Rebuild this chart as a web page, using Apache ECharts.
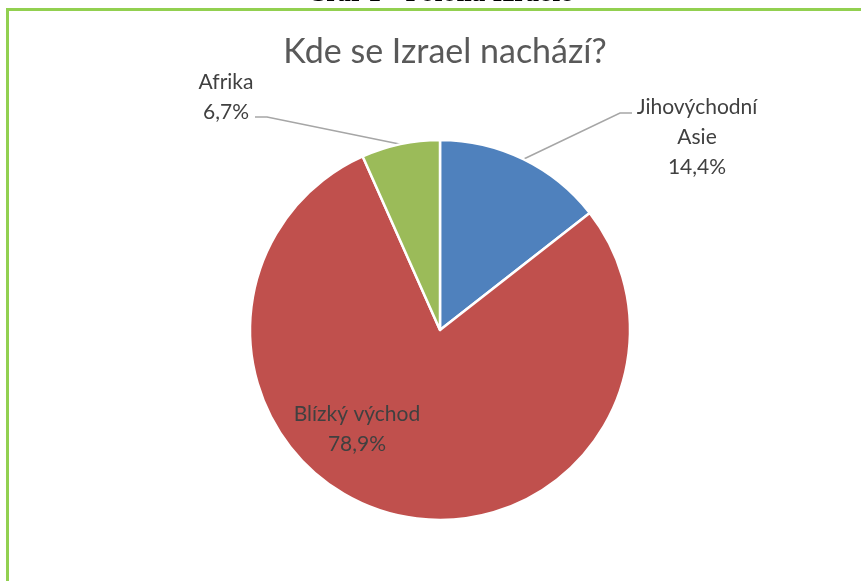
<!DOCTYPE html>
<html>
<head>
<meta charset="utf-8">
<script src="https://cdn.jsdelivr.net/npm/echarts@6/dist/echarts.min.js"></script>
<style>
  html, body { margin: 0; padding: 0; background: #fff; }
  #chart { width: 861px; height: 581px; }
</style>
</head>
<body>
<div id="chart"></div>
<script>
// data (counts of answers, shown as percent)
var categories = ['Jihovýchodní Asie', 'Blízký východ', 'Afrika'];
var counts = [13, 71, 6];
var colors = ['#4f81bd', '#c0504d', '#9bbb59'];

// where Excel put the labels (top-centre of the label block) and the bend of each leader
var labelSpots = [
    { x: 697, y: 92, bend: [[620, 113], [632, 113]] },
    { x: 357, y: 399, bend: null },
    { x: 226, y: 67, bend: [[267, 117], [255, 117]] }
];

var pieData = [];
for (var i = 0; i < categories.length; i++) {
    pieData.push({
        name: categories[i],
        value: counts[i],
        itemStyle: { color: colors[i] },
        label: { position: i == 1 ? 'inside' : 'outside' },
        labelLine: { show: i != 1 }
    });
}

var myChart = echarts.init(document.getElementById('chart'));
var option = {
    animation: false,
    backgroundColor: '#fff',
    title: {
        text: 'Kde se Izrael nachází?',
        left: 440,
        textAlign: 'center',
        top: 30,
        textStyle: { fontFamily: 'Lato', fontWeight: 'normal', fontSize: 34, color: '#595959' }
    },
    graphic: [
        {
            type: 'rect',
            shape: { x: 7.5, y: 9.5, width: 900, height: 620 },
            style: { fill: null, stroke: '#92d050', lineWidth: 3 },
            z: 100
        },
        {
            type: 'text',
            x: 441, y: -15,
            style: {
                text: 'Graf 1 - Poloha Izraele',
                font: 'bold 21px "DejaVu Serif"',
                fill: '#000',
                align: 'center',
                verticalAlign: 'top'
            }
        }
    ],
    series: [{
        type: 'pie',
        center: [440, 330],
        radius: 190,
        startAngle: 90,
        clockwise: true,
        percentPrecision: 1,
        itemStyle: { borderColor: '#fff', borderWidth: 2.5 },
        label: {
            fontFamily: 'Lato',
            fontSize: 21,
            lineHeight: 30,
            color: '#404040',
            align: 'center',
            formatter: function (p) {
                var name = p.dataIndex == 0 ? p.name.replace(' ', '\n') : p.name;
                return name + '\n' + p.percent.toFixed(1).replace('.', ',') + '%';
            }
        },
        labelLine: { lineStyle: { color: '#a6a6a6', width: 1.5 } },
        labelLayout: function (params) {
            var s = labelSpots[params.dataIndex];
            var res = { x: s.x, y: s.y, align: 'center', verticalAlign: 'top' };
            if (s.bend && params.labelLinePoints) {
                res.labelLinePoints = [params.labelLinePoints[0], s.bend[0], s.bend[1]];
            }
            return res;
        },
        data: pieData
    }]
};
myChart.setOption(option);
</script>
</body>
</html>
